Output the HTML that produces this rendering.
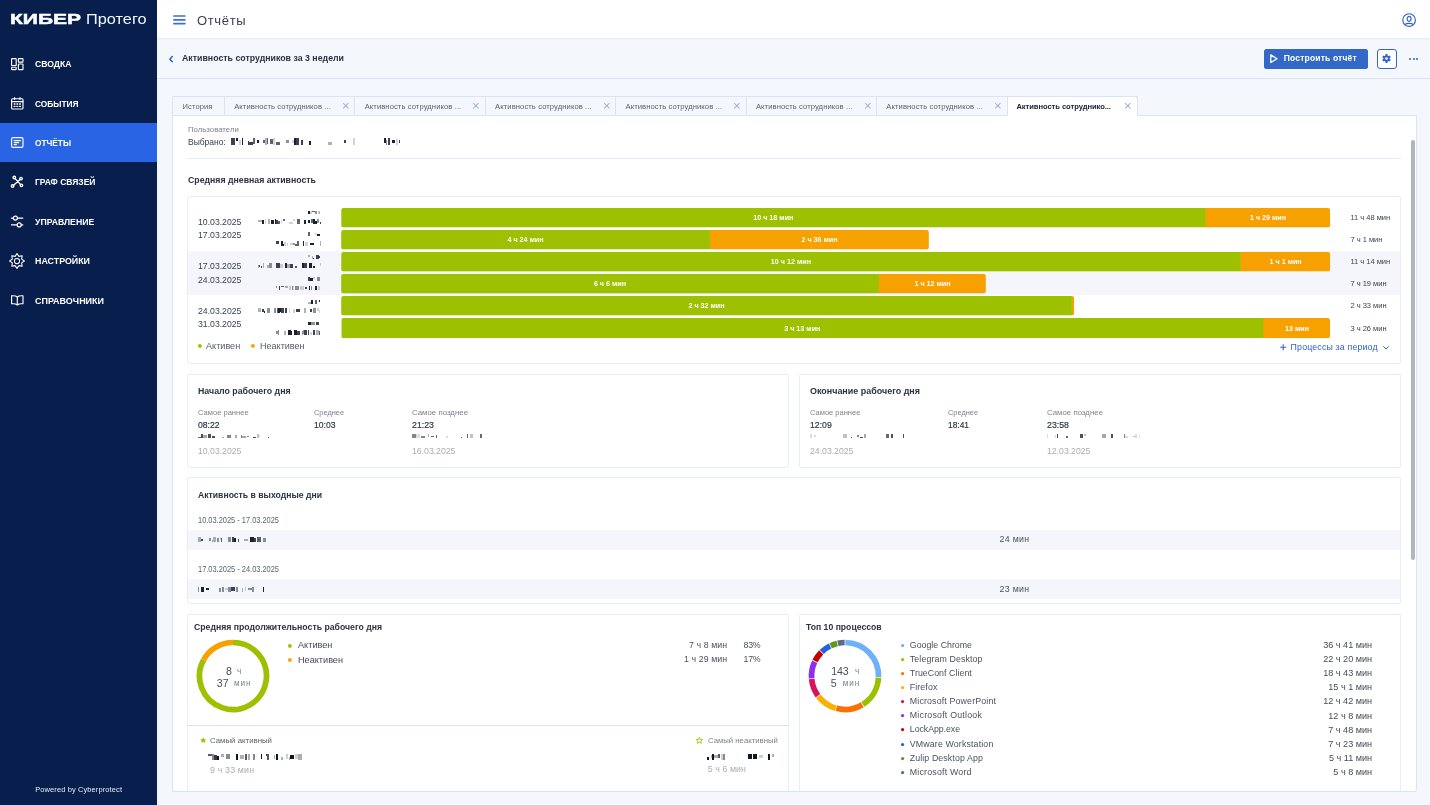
<!DOCTYPE html><html><head><meta charset="utf-8"><title>Отчёты</title><style>
html,body{margin:0;padding:0;}body{width:1430px;height:805px;overflow:hidden;position:relative;background:#f4f7fc;font-family:"Liberation Sans", sans-serif;will-change:transform;}
.t{position:absolute;white-space:nowrap;line-height:1;font-family:"Liberation Sans", sans-serif;}
svg{position:absolute;overflow:visible}
</style></head><body>
<div style="position:absolute;left:0px;top:0px;width:157px;height:805px;background:#081f4d;"></div>
<div style="position:absolute;left:0px;top:123px;width:157px;height:39px;background:#2864e4;"></div>
<div style="position:absolute;left:157px;top:0px;width:1273px;height:38px;background:#fff;box-shadow:0 1px 2px rgba(60,90,160,0.10);"></div>
<svg style="left:173px;top:14px" width="13" height="12" viewBox="0 0 13 12" stroke="#3a6fd8" stroke-width="1.7" stroke-linecap="round"><path d="M0.9 2 H11.9 M0.9 5.8 H11.9 M0.9 9.6 H11.9"/></svg>
<svg style="left:1401.8px;top:12.8px" width="14.2" height="14.2" viewBox="0 0 15 15" fill="none" stroke="#2f62cf" stroke-width="1.2"><circle cx="7.5" cy="7.5" r="6.7"/><ellipse cx="7.5" cy="6.2" rx="2.1" ry="2.6"/><path d="M3.2 12.2 C4.6 10.6 10.4 10.6 11.8 12.2"/></svg>
<div style="position:absolute;left:157px;top:78px;width:1273px;height:1px;background:#dbe4f7;"></div>
<svg style="left:168.6px;top:55.6px" width="4" height="6.4" viewBox="0 0 4 6.4" fill="none" stroke="#2f62cf" stroke-width="1.5" stroke-linecap="round" stroke-linejoin="round"><path d="M3.3 0.6 L0.8 3.2 L3.3 5.8"/></svg>
<div style="position:absolute;left:1263.5px;top:48.5px;width:104px;height:20.5px;background:#3468c8;border-radius:2.5px;"></div>
<svg style="left:1270px;top:54px" width="8" height="9.4" viewBox="0 0 8 9.4" fill="none" stroke="#fff" stroke-width="1.3" stroke-linejoin="round"><path d="M0.8 0.9 L7 4.7 L0.8 8.5 Z"/></svg>
<div style="position:absolute;left:1377px;top:48.5px;width:19.8px;height:20.5px;background:#fff;border:1px solid #3468c8;border-radius:3px;box-sizing:border-box;"></div>
<svg style="left:1382.2px;top:54.3px" width="9" height="9" viewBox="-4.5 -4.5 9 9"><g fill="#2f62cf"><rect x="-1.05" y="-4.4" width="2.1" height="8.8" rx="0.5" transform="rotate(0)"/><rect x="-1.05" y="-4.4" width="2.1" height="8.8" rx="0.5" transform="rotate(60)"/><rect x="-1.05" y="-4.4" width="2.1" height="8.8" rx="0.5" transform="rotate(120)"/><circle r="3.1"/></g><circle r="1.35" fill="#fff"/></svg>
<svg style="left:1407.8px;top:56.7px" width="4.0" height="4.0" viewBox="-2.0 -2.0 4.0 4.0"><circle r="1.0" fill="#2f62cf"/></svg>
<svg style="left:1411.5px;top:56.7px" width="4.0" height="4.0" viewBox="-2.0 -2.0 4.0 4.0"><circle r="1.0" fill="#2f62cf"/></svg>
<svg style="left:1415.2px;top:56.7px" width="4.0" height="4.0" viewBox="-2.0 -2.0 4.0 4.0"><circle r="1.0" fill="#2f62cf"/></svg>
<div style="position:absolute;left:172px;top:115px;width:1244.5px;height:676.5px;background:#fff;border:1px solid #dbe4f7;box-sizing:border-box;border-radius:0 0 3px 3px;"></div>
<div style="position:absolute;left:172px;top:96px;width:965.5px;height:20px;background:#f4f7fc;border:1px solid #dbe4f7;box-sizing:border-box;border-radius:1px 0 0 0;"></div>
<div style="position:absolute;left:224px;top:97px;width:1px;height:18px;background:#dbe4f7;"></div>
<div style="position:absolute;left:354px;top:97px;width:1px;height:18px;background:#dbe4f7;"></div>
<div style="position:absolute;left:485px;top:97px;width:1px;height:18px;background:#dbe4f7;"></div>
<div style="position:absolute;left:615px;top:97px;width:1px;height:18px;background:#dbe4f7;"></div>
<div style="position:absolute;left:746px;top:97px;width:1px;height:18px;background:#dbe4f7;"></div>
<div style="position:absolute;left:876px;top:97px;width:1px;height:18px;background:#dbe4f7;"></div>
<div style="position:absolute;left:1007px;top:96px;width:130.5px;height:20px;background:#fff;border:1px solid #dbe4f7;border-bottom:none;box-sizing:border-box;border-radius:0 3px 0 0;"></div>
<svg style="left:342.8px;top:103.4px" width="5.6" height="5.6" viewBox="0 0 5.6 5.6" stroke="#9db7ea" stroke-width="1.05" stroke-linecap="round"><path d="M0.4 0.4 L5.2 5.2 M5.2 0.4 L0.4 5.2"/></svg>
<svg style="left:473.2px;top:103.4px" width="5.6" height="5.6" viewBox="0 0 5.6 5.6" stroke="#9db7ea" stroke-width="1.05" stroke-linecap="round"><path d="M0.4 0.4 L5.2 5.2 M5.2 0.4 L0.4 5.2"/></svg>
<svg style="left:603.7px;top:103.4px" width="5.6" height="5.6" viewBox="0 0 5.6 5.6" stroke="#9db7ea" stroke-width="1.05" stroke-linecap="round"><path d="M0.4 0.4 L5.2 5.2 M5.2 0.4 L0.4 5.2"/></svg>
<svg style="left:734.1px;top:103.4px" width="5.6" height="5.6" viewBox="0 0 5.6 5.6" stroke="#9db7ea" stroke-width="1.05" stroke-linecap="round"><path d="M0.4 0.4 L5.2 5.2 M5.2 0.4 L0.4 5.2"/></svg>
<svg style="left:864.5px;top:103.4px" width="5.6" height="5.6" viewBox="0 0 5.6 5.6" stroke="#9db7ea" stroke-width="1.05" stroke-linecap="round"><path d="M0.4 0.4 L5.2 5.2 M5.2 0.4 L0.4 5.2"/></svg>
<svg style="left:995.0px;top:103.4px" width="5.6" height="5.6" viewBox="0 0 5.6 5.6" stroke="#9db7ea" stroke-width="1.05" stroke-linecap="round"><path d="M0.4 0.4 L5.2 5.2 M5.2 0.4 L0.4 5.2"/></svg>
<svg style="left:1125.2px;top:103.4px" width="5.6" height="5.6" viewBox="0 0 5.6 5.6" stroke="#9db7ea" stroke-width="1.05" stroke-linecap="round"><path d="M0.4 0.4 L5.2 5.2 M5.2 0.4 L0.4 5.2"/></svg>
<div style="position:absolute;left:1411px;top:140px;width:4px;height:420px;background:#b3b6bc;border-radius:2px;"></div>
<svg style="left:11px;top:58px" width="12.6" height="12" viewBox="0 0 12.6 12" fill="none" stroke="#fff" stroke-width="1.15" stroke-linecap="round" stroke-linejoin="round"><rect x="0.6" y="0.6" width="4.6" height="6.9" rx="0.6"/><rect x="7.4" y="0.6" width="4.6" height="3.5" rx="0.6"/><rect x="0.6" y="9.3" width="4.6" height="2.3" rx="0.6"/><rect x="7.4" y="6" width="4.6" height="5.6" rx="0.6"/></svg>
<svg style="left:11px;top:97px" width="12.6" height="12.6" viewBox="0 0 12.6 12.6" fill="none" stroke="#fff" stroke-width="1.15" stroke-linecap="round" stroke-linejoin="round"><rect x="0.6" y="1.8" width="11.4" height="10.2" rx="1.1"/><path d="M0.6 4.6 H12 M3.6 0.6 V2.4 M9 0.6 V2.4"/><path d="M3.2 7 H4 M5.9 7 H6.7 M8.6 7 H9.4 M3.2 9.4 H4 M5.9 9.4 H6.7 M8.6 9.4 H9.4" stroke-width="1.3"/></svg>
<svg style="left:11px;top:136.8px" width="12.6" height="11" viewBox="0 0 12.6 11" fill="none" stroke="#fff" stroke-width="1.15" stroke-linecap="round" stroke-linejoin="round"><rect x="0.6" y="0.6" width="11.4" height="9.8" rx="1.4"/><path d="M3.2 3.6 H9.4 M3.2 5.6 H7.6 M3.2 7.6 H5.4" stroke-width="1.1"/></svg>
<svg style="left:0px;top:0px" width="40" height="200" viewBox="0 0 40 200" fill="none" stroke="#fff" stroke-width="1.35" stroke-linecap="round"><path d="M15.2 178.6 L20.4 184.4 M20 179.6 L13.6 185.2"/><circle cx="14.3" cy="177.5" r="1.25"/><circle cx="21" cy="178.6" r="1.25"/><circle cx="12.6" cy="186" r="1.25"/><circle cx="21.4" cy="185.3" r="1.25"/></svg>
<svg style="left:0px;top:200px" width="40" height="40" viewBox="0 200 40 40" fill="none" stroke="#fff" stroke-width="1.15" stroke-linecap="round"><path d="M11.4 218.1 H13.4 M17.4 218.1 H22.8 M11.4 224.9 H17.2 M21.2 224.9 H22.8"/><circle cx="15.4" cy="218.1" r="2"/><circle cx="19.2" cy="224.9" r="2"/></svg>
<svg style="left:9.1px;top:252.7px" width="16" height="16" viewBox="-8 -8 16 16" fill="none" stroke="#fff" stroke-width="1.05" stroke-linecap="round" stroke-linejoin="round"><path d="M0.00 -7.40 L1.91 -4.62 L5.23 -5.23 L4.62 -1.91 L7.40 -0.00 L4.62 1.91 L5.23 5.23 L1.91 4.62 L0.00 7.40 L-1.91 4.62 L-5.23 5.23 L-4.62 1.91 L-7.40 0.00 L-4.62 -1.91 L-5.23 -5.23 L-1.91 -4.62 Z"/><circle r="2.6"/></svg>
<svg style="left:11px;top:294.6px" width="12.6" height="10.8" viewBox="0 0 12.6 10.8" fill="none" stroke="#fff" stroke-width="1.15" stroke-linecap="round" stroke-linejoin="round"><path d="M6.3 2 C5 0.8 2.6 0.6 0.6 0.8 V8.8 C2.6 8.6 5 8.8 6.3 10 C7.6 8.8 10 8.6 12 8.8 V0.8 C10 0.6 7.6 0.8 6.3 2 Z M6.3 2 V10"/></svg>
<div style="position:absolute;left:0;top:0;filter:blur(0.35px)"><i style="position:absolute;left:230.5px;top:137.9px;width:4px;height:7px;background:#1b2132;opacity:0.85"></i><i style="position:absolute;left:235.5px;top:137.9px;width:2px;height:2.8px;background:#1b2132;opacity:1"></i><i style="position:absolute;left:238.5px;top:139.7px;width:2px;height:5.2px;background:#1b2132;opacity:0.2"></i><i style="position:absolute;left:241.5px;top:137.9px;width:1px;height:7px;background:#1b2132;opacity:1"></i><i style="position:absolute;left:247.5px;top:141.0px;width:1px;height:3.9px;background:#1b2132;opacity:0.85"></i><i style="position:absolute;left:248.5px;top:142.1px;width:4px;height:2.8px;background:#1b2132;opacity:0.85"></i><i style="position:absolute;left:252.5px;top:138.2px;width:2px;height:6.3px;background:#1b2132;opacity:0.7"></i><i style="position:absolute;left:256.5px;top:140.0px;width:2px;height:2.8px;background:#1b2132;opacity:1"></i><i style="position:absolute;left:262.5px;top:140.0px;width:2px;height:2.8px;background:#1b2132;opacity:0.7"></i><i style="position:absolute;left:264.5px;top:137.9px;width:2px;height:7px;background:#1b2132;opacity:0.35"></i><i style="position:absolute;left:266.5px;top:137.9px;width:1px;height:6.3px;background:#1b2132;opacity:0.7"></i><i style="position:absolute;left:269.5px;top:138.8px;width:3px;height:5.2px;background:#1b2132;opacity:0.7"></i><i style="position:absolute;left:272.5px;top:137.9px;width:2px;height:7px;background:#1b2132;opacity:0.2"></i><i style="position:absolute;left:275.5px;top:142.1px;width:4px;height:2.8px;background:#1b2132;opacity:0.7"></i><i style="position:absolute;left:285.5px;top:139.5px;width:3px;height:3.9px;background:#1b2132;opacity:0.5"></i><i style="position:absolute;left:291.5px;top:140.0px;width:2px;height:2.8px;background:#1b2132;opacity:0.2"></i><i style="position:absolute;left:293.5px;top:137.9px;width:2px;height:7px;background:#1b2132;opacity:1"></i><i style="position:absolute;left:295.5px;top:137.9px;width:3px;height:7px;background:#1b2132;opacity:0.85"></i><i style="position:absolute;left:300.5px;top:139.7px;width:2px;height:5.2px;background:#1b2132;opacity:0.85"></i><i style="position:absolute;left:308.5px;top:141.0px;width:2px;height:3.9px;background:#1b2132;opacity:1"></i></div>
<div style="position:absolute;left:0;top:0;filter:blur(0.35px)"><i style="position:absolute;left:328px;top:142.1px;width:4px;height:2.8px;background:#1b2132;opacity:0.35"></i><i style="position:absolute;left:344px;top:139.5px;width:2px;height:3.9px;background:#1b2132;opacity:0.85"></i><i style="position:absolute;left:353px;top:137.9px;width:2px;height:7px;background:#1b2132;opacity:0.2"></i><i style="position:absolute;left:384px;top:137.9px;width:2px;height:5.2px;background:#1b2132;opacity:1"></i><i style="position:absolute;left:386px;top:139.7px;width:1px;height:5.2px;background:#1b2132;opacity:0.5"></i><i style="position:absolute;left:388px;top:137.9px;width:2px;height:7px;background:#1b2132;opacity:0.85"></i><i style="position:absolute;left:392px;top:140.0px;width:3px;height:2.8px;background:#1b2132;opacity:1"></i><i style="position:absolute;left:396px;top:138.6px;width:2px;height:6.3px;background:#1b2132;opacity:0.2"></i><i style="position:absolute;left:399px;top:140.0px;width:1px;height:2.8px;background:#1b2132;opacity:0.85"></i></div>
<div style="position:absolute;left:187px;top:158px;width:1214px;height:1px;background:#e8edf9;"></div>
<div style="position:absolute;left:187px;top:196px;width:1214px;height:167.5px;background:#fff;border:1px solid #e8edf9;box-sizing:border-box;border-radius:2px;"></div>
<div style="position:absolute;left:188px;top:251px;width:1212px;height:44px;background:#f4f6fc;"></div>
<svg style="left:341px;top:208px" width="989.4" height="19.6" viewBox="0 0 989.4 19.6"><clipPath id="c208"><rect width="989.4" height="19.6" rx="2.5"/></clipPath><g clip-path="url(#c208)"><rect x="864.1" width="125.3" height="19.6" fill="#f7a100"/><rect width="864.6" height="19.6" fill="#9dc100"/></g></svg>
<svg style="left:341px;top:230px" width="588" height="19.6" viewBox="0 0 588 19.6"><clipPath id="c230"><rect width="588" height="19.6" rx="2.5"/></clipPath><g clip-path="url(#c230)"><rect x="368.5" width="219.5" height="19.6" fill="#f7a100"/><rect width="369" height="19.6" fill="#9dc100"/></g></svg>
<svg style="left:341px;top:252px" width="989.4" height="19.6" viewBox="0 0 989.4 19.6"><clipPath id="c252"><rect width="989.4" height="19.6" rx="2.5"/></clipPath><g clip-path="url(#c252)"><rect x="899.3" width="90.1" height="19.6" fill="#f7a100"/><rect width="899.8" height="19.6" fill="#9dc100"/></g></svg>
<svg style="left:341px;top:274px" width="645" height="19.6" viewBox="0 0 645 19.6"><clipPath id="c274"><rect width="645" height="19.6" rx="2.5"/></clipPath><g clip-path="url(#c274)"><rect x="537.5" width="107.5" height="19.6" fill="#f7a100"/><rect width="538" height="19.6" fill="#9dc100"/></g></svg>
<svg style="left:341px;top:296px" width="733.2" height="19.6" viewBox="0 0 733.2 19.6"><clipPath id="c296"><rect width="733.2" height="19.6" rx="2.5"/></clipPath><g clip-path="url(#c296)"><rect x="730.5" width="2.7" height="19.6" fill="#f7a100"/><rect width="731" height="19.6" fill="#9dc100"/></g></svg>
<svg style="left:341px;top:318px" width="989.4" height="20.2" viewBox="0 0 989.4 20.2"><clipPath id="c318"><rect width="989.4" height="20.2" rx="2.5"/></clipPath><g clip-path="url(#c318)"><rect x="922.1" width="67.3" height="20.2" fill="#f7a100"/><rect width="922.6" height="20.2" fill="#9dc100"/></g></svg>
<div style="position:absolute;left:0;top:0;filter:blur(0.35px)"><i style="position:absolute;left:307.6px;top:210.9px;width:2px;height:3.4px;background:#1b2132;opacity:1"></i><i style="position:absolute;left:309.6px;top:210.7px;width:2px;height:3.8px;background:#1b2132;opacity:0.2"></i><i style="position:absolute;left:311.6px;top:210.7px;width:3px;height:1.5px;background:#1b2132;opacity:0.7"></i><i style="position:absolute;left:314.6px;top:211.1px;width:2px;height:3.4px;background:#1b2132;opacity:0.5"></i><i style="position:absolute;left:317.6px;top:210.7px;width:1px;height:3.8px;background:#1b2132;opacity:0.2"></i><i style="position:absolute;left:318.6px;top:210.7px;width:1.4px;height:3.8px;background:#1b2132;opacity:0.35"></i></div>
<div style="position:absolute;left:0;top:0;filter:blur(0.35px)"><i style="position:absolute;left:257.7px;top:220.3px;width:4px;height:1.9px;background:#1b2132;opacity:0.35"></i><i style="position:absolute;left:261.7px;top:220.1px;width:2px;height:3.6px;background:#1b2132;opacity:1"></i><i style="position:absolute;left:264.7px;top:219.4px;width:1px;height:4.3px;background:#1b2132;opacity:0.2"></i><i style="position:absolute;left:267.7px;top:218.9px;width:2px;height:4.8px;background:#1b2132;opacity:0.35"></i><i style="position:absolute;left:270.7px;top:220.1px;width:3px;height:3.6px;background:#1b2132;opacity:1"></i><i style="position:absolute;left:274.7px;top:218.9px;width:1px;height:4.8px;background:#1b2132;opacity:1"></i><i style="position:absolute;left:275.7px;top:220.1px;width:2px;height:3.6px;background:#1b2132;opacity:0.85"></i><i style="position:absolute;left:277.7px;top:221.1px;width:2px;height:2.6px;background:#1b2132;opacity:0.7"></i><i style="position:absolute;left:280.7px;top:220.0px;width:1px;height:2.6px;background:#1b2132;opacity:0.2"></i><i style="position:absolute;left:282.7px;top:218.9px;width:2px;height:2.6px;background:#1b2132;opacity:0.7"></i><i style="position:absolute;left:288.7px;top:221.8px;width:4px;height:1.9px;background:#1b2132;opacity:0.2"></i><i style="position:absolute;left:292.7px;top:218.9px;width:2px;height:2.6px;background:#1b2132;opacity:0.2"></i><i style="position:absolute;left:296.7px;top:218.9px;width:3px;height:4.8px;background:#1b2132;opacity:0.7"></i><i style="position:absolute;left:303.7px;top:220.1px;width:2px;height:3.6px;background:#1b2132;opacity:1"></i><i style="position:absolute;left:307.7px;top:220.0px;width:2px;height:2.6px;background:#1b2132;opacity:1"></i><i style="position:absolute;left:310.7px;top:218.9px;width:2px;height:4.3px;background:#1b2132;opacity:0.7"></i><i style="position:absolute;left:312.7px;top:218.9px;width:2px;height:4.8px;background:#1b2132;opacity:1"></i><i style="position:absolute;left:314.7px;top:221.1px;width:2px;height:2.6px;background:#1b2132;opacity:1"></i><i style="position:absolute;left:316.7px;top:218.9px;width:2px;height:4.3px;background:#1b2132;opacity:0.5"></i><i style="position:absolute;left:319.7px;top:221.8px;width:0.7px;height:1.9px;background:#1b2132;opacity:0.85"></i></div>
<div style="position:absolute;left:0;top:0;filter:blur(0.35px)"><i style="position:absolute;left:307.6px;top:232.3px;width:2px;height:3.8px;background:#1b2132;opacity:0.7"></i><i style="position:absolute;left:314.6px;top:233.2px;width:2px;height:2.1px;background:#1b2132;opacity:0.2"></i><i style="position:absolute;left:316.6px;top:234.0px;width:3px;height:2.1px;background:#1b2132;opacity:1"></i></div>
<div style="position:absolute;left:0;top:0;filter:blur(0.35px)"><i style="position:absolute;left:275.5px;top:241.4px;width:3px;height:2.6px;background:#1b2132;opacity:0.85"></i><i style="position:absolute;left:280.5px;top:241.4px;width:2px;height:4.8px;background:#1b2132;opacity:1"></i><i style="position:absolute;left:282.5px;top:243.6px;width:1px;height:2.6px;background:#1b2132;opacity:1"></i><i style="position:absolute;left:283.5px;top:241.6px;width:2px;height:4.3px;background:#1b2132;opacity:0.2"></i><i style="position:absolute;left:286.5px;top:242.6px;width:1px;height:3.6px;background:#1b2132;opacity:0.2"></i><i style="position:absolute;left:289.5px;top:242.5px;width:3px;height:2.6px;background:#1b2132;opacity:0.2"></i><i style="position:absolute;left:292.5px;top:242.5px;width:2px;height:2.6px;background:#1b2132;opacity:0.5"></i><i style="position:absolute;left:294.5px;top:244.3px;width:2px;height:1.9px;background:#1b2132;opacity:0.7"></i><i style="position:absolute;left:296.5px;top:241.4px;width:2px;height:4.8px;background:#1b2132;opacity:0.7"></i><i style="position:absolute;left:302.5px;top:241.4px;width:1px;height:4.8px;background:#1b2132;opacity:1"></i><i style="position:absolute;left:304.5px;top:242.0px;width:3px;height:3.6px;background:#1b2132;opacity:0.2"></i><i style="position:absolute;left:309.5px;top:242.5px;width:4px;height:2.6px;background:#1b2132;opacity:1"></i><i style="position:absolute;left:319.5px;top:241.4px;width:0.9px;height:4.8px;background:#1b2132;opacity:0.35"></i></div>
<div style="position:absolute;left:0;top:0;filter:blur(0.35px)"><i style="position:absolute;left:307.6px;top:255.4px;width:2px;height:1.5px;background:#1b2132;opacity:0.35"></i><i style="position:absolute;left:311.6px;top:255.9px;width:1px;height:2.8px;background:#1b2132;opacity:0.35"></i><i style="position:absolute;left:312.6px;top:257.7px;width:1px;height:1.5px;background:#1b2132;opacity:0.85"></i><i style="position:absolute;left:315.6px;top:255.4px;width:3px;height:3.8px;background:#1b2132;opacity:0.85"></i><i style="position:absolute;left:318.6px;top:256.3px;width:1.4px;height:2.1px;background:#1b2132;opacity:0.85"></i></div>
<div style="position:absolute;left:0;top:0;filter:blur(0.35px)"><i style="position:absolute;left:257.7px;top:264.6px;width:1px;height:3.6px;background:#1b2132;opacity:0.35"></i><i style="position:absolute;left:258.7px;top:264.8px;width:1px;height:1.9px;background:#1b2132;opacity:0.85"></i><i style="position:absolute;left:260.7px;top:265.6px;width:1px;height:2.6px;background:#1b2132;opacity:0.85"></i><i style="position:absolute;left:262.7px;top:263.4px;width:1px;height:4.3px;background:#1b2132;opacity:0.35"></i><i style="position:absolute;left:266.7px;top:264.6px;width:2px;height:3.6px;background:#1b2132;opacity:0.35"></i><i style="position:absolute;left:268.7px;top:263.4px;width:3px;height:4.8px;background:#1b2132;opacity:0.5"></i><i style="position:absolute;left:275.7px;top:263.4px;width:4px;height:4.8px;background:#1b2132;opacity:0.85"></i><i style="position:absolute;left:279.7px;top:263.6px;width:3px;height:4.3px;background:#1b2132;opacity:0.2"></i><i style="position:absolute;left:284.7px;top:263.4px;width:2px;height:4.8px;background:#1b2132;opacity:1"></i><i style="position:absolute;left:286.7px;top:263.9px;width:3px;height:4.3px;background:#1b2132;opacity:0.35"></i><i style="position:absolute;left:289.7px;top:264.0px;width:3px;height:3.6px;background:#1b2132;opacity:0.85"></i><i style="position:absolute;left:294.7px;top:265.6px;width:2px;height:2.6px;background:#1b2132;opacity:0.7"></i><i style="position:absolute;left:301.7px;top:263.4px;width:2px;height:4.8px;background:#1b2132;opacity:1"></i><i style="position:absolute;left:303.7px;top:263.4px;width:3px;height:4.8px;background:#1b2132;opacity:0.85"></i><i style="position:absolute;left:308.7px;top:263.4px;width:3px;height:4.8px;background:#1b2132;opacity:1"></i><i style="position:absolute;left:312.7px;top:265.6px;width:2px;height:2.6px;background:#1b2132;opacity:1"></i><i style="position:absolute;left:319.7px;top:263.4px;width:0.7px;height:2.6px;background:#1b2132;opacity:0.2"></i></div>
<div style="position:absolute;left:0;top:0;filter:blur(0.35px)"><i style="position:absolute;left:307.6px;top:277.4px;width:2px;height:3.8px;background:#1b2132;opacity:0.85"></i><i style="position:absolute;left:309.6px;top:278.4px;width:3px;height:2.8px;background:#1b2132;opacity:1"></i><i style="position:absolute;left:312.6px;top:277.4px;width:2px;height:2.1px;background:#1b2132;opacity:0.2"></i><i style="position:absolute;left:316.6px;top:277.4px;width:3px;height:3.4px;background:#1b2132;opacity:0.5"></i></div>
<div style="position:absolute;left:0;top:0;filter:blur(0.35px)"><i style="position:absolute;left:275.5px;top:285.5px;width:1px;height:2.6px;background:#1b2132;opacity:0.5"></i><i style="position:absolute;left:278.5px;top:285.5px;width:1px;height:4.8px;background:#1b2132;opacity:0.85"></i><i style="position:absolute;left:280.5px;top:285.5px;width:3px;height:1.9px;background:#1b2132;opacity:0.7"></i><i style="position:absolute;left:284.5px;top:285.5px;width:3px;height:2.6px;background:#1b2132;opacity:0.35"></i><i style="position:absolute;left:288.5px;top:285.5px;width:2px;height:4.8px;background:#1b2132;opacity:0.2"></i><i style="position:absolute;left:291.5px;top:285.5px;width:1px;height:4.8px;background:#1b2132;opacity:0.5"></i><i style="position:absolute;left:292.5px;top:285.5px;width:1px;height:4.8px;background:#1b2132;opacity:0.2"></i><i style="position:absolute;left:294.5px;top:286.0px;width:4px;height:4.3px;background:#1b2132;opacity:0.5"></i><i style="position:absolute;left:299.5px;top:285.5px;width:4px;height:4.8px;background:#1b2132;opacity:0.2"></i><i style="position:absolute;left:304.5px;top:286.6px;width:2px;height:2.6px;background:#1b2132;opacity:0.85"></i><i style="position:absolute;left:308.5px;top:286.0px;width:1px;height:4.3px;background:#1b2132;opacity:1"></i><i style="position:absolute;left:310.5px;top:285.5px;width:1px;height:4.8px;background:#1b2132;opacity:0.5"></i><i style="position:absolute;left:314.5px;top:286.1px;width:2px;height:3.6px;background:#1b2132;opacity:1"></i><i style="position:absolute;left:317.5px;top:285.5px;width:2.9px;height:4.8px;background:#1b2132;opacity:0.2"></i></div>
<div style="position:absolute;left:0;top:0;filter:blur(0.35px)"><i style="position:absolute;left:307.6px;top:301.6px;width:3px;height:2.1px;background:#1b2132;opacity:0.35"></i><i style="position:absolute;left:310.6px;top:299.9px;width:2px;height:3.8px;background:#1b2132;opacity:1"></i><i style="position:absolute;left:314.6px;top:299.9px;width:2px;height:3.8px;background:#1b2132;opacity:0.7"></i><i style="position:absolute;left:318.6px;top:299.9px;width:1px;height:2.1px;background:#1b2132;opacity:1"></i></div>
<div style="position:absolute;left:0;top:0;filter:blur(0.35px)"><i style="position:absolute;left:257.7px;top:308.1px;width:3px;height:4.3px;background:#1b2132;opacity:0.35"></i><i style="position:absolute;left:261.7px;top:309.0px;width:2px;height:2.6px;background:#1b2132;opacity:0.85"></i><i style="position:absolute;left:263.7px;top:310.8px;width:1px;height:1.9px;background:#1b2132;opacity:1"></i><i style="position:absolute;left:266.7px;top:308.4px;width:3px;height:4.3px;background:#1b2132;opacity:0.5"></i><i style="position:absolute;left:273.7px;top:307.9px;width:2px;height:4.8px;background:#1b2132;opacity:0.5"></i><i style="position:absolute;left:276.7px;top:307.9px;width:1px;height:4.8px;background:#1b2132;opacity:0.7"></i><i style="position:absolute;left:277.7px;top:308.4px;width:2px;height:4.3px;background:#1b2132;opacity:1"></i><i style="position:absolute;left:279.7px;top:307.9px;width:1px;height:4.3px;background:#1b2132;opacity:1"></i><i style="position:absolute;left:280.7px;top:307.9px;width:3px;height:4.8px;background:#1b2132;opacity:0.85"></i><i style="position:absolute;left:284.7px;top:307.9px;width:2px;height:4.8px;background:#1b2132;opacity:0.85"></i><i style="position:absolute;left:288.7px;top:307.9px;width:1px;height:4.8px;background:#1b2132;opacity:0.2"></i><i style="position:absolute;left:292.7px;top:309.1px;width:2px;height:3.6px;background:#1b2132;opacity:0.2"></i><i style="position:absolute;left:295.7px;top:309.0px;width:4px;height:2.6px;background:#1b2132;opacity:0.85"></i><i style="position:absolute;left:303.7px;top:307.9px;width:2px;height:4.8px;background:#1b2132;opacity:0.35"></i><i style="position:absolute;left:309.7px;top:308.5px;width:2px;height:3.6px;background:#1b2132;opacity:0.85"></i><i style="position:absolute;left:312.7px;top:307.9px;width:3px;height:4.8px;background:#1b2132;opacity:0.5"></i><i style="position:absolute;left:316.7px;top:307.9px;width:2px;height:3.6px;background:#1b2132;opacity:0.2"></i><i style="position:absolute;left:318.7px;top:310.1px;width:1.7px;height:2.6px;background:#1b2132;opacity:0.2"></i></div>
<div style="position:absolute;left:0;top:0;filter:blur(0.35px)"><i style="position:absolute;left:307.6px;top:321.5px;width:3px;height:3.8px;background:#1b2132;opacity:1"></i><i style="position:absolute;left:310.6px;top:322.0px;width:4px;height:2.8px;background:#1b2132;opacity:0.5"></i><i style="position:absolute;left:315.6px;top:321.5px;width:3px;height:3.8px;background:#1b2132;opacity:0.85"></i></div>
<div style="position:absolute;left:0;top:0;filter:blur(0.35px)"><i style="position:absolute;left:275.5px;top:330.6px;width:2px;height:3.6px;background:#1b2132;opacity:0.5"></i><i style="position:absolute;left:277.5px;top:330.0px;width:1px;height:4.8px;background:#1b2132;opacity:0.5"></i><i style="position:absolute;left:283.5px;top:330.5px;width:2px;height:4.3px;background:#1b2132;opacity:0.35"></i><i style="position:absolute;left:287.5px;top:330.0px;width:3px;height:4.8px;background:#1b2132;opacity:1"></i><i style="position:absolute;left:290.5px;top:331.2px;width:1px;height:3.6px;background:#1b2132;opacity:1"></i><i style="position:absolute;left:293.5px;top:330.0px;width:3px;height:4.8px;background:#1b2132;opacity:1"></i><i style="position:absolute;left:296.5px;top:330.5px;width:3px;height:4.3px;background:#1b2132;opacity:0.85"></i><i style="position:absolute;left:301.5px;top:331.2px;width:1px;height:3.6px;background:#1b2132;opacity:0.5"></i><i style="position:absolute;left:302.5px;top:330.0px;width:1px;height:4.3px;background:#1b2132;opacity:0.5"></i><i style="position:absolute;left:303.5px;top:330.0px;width:3px;height:4.8px;background:#1b2132;opacity:0.85"></i><i style="position:absolute;left:307.5px;top:330.0px;width:1px;height:4.8px;background:#1b2132;opacity:0.85"></i><i style="position:absolute;left:309.5px;top:332.2px;width:2px;height:2.6px;background:#1b2132;opacity:0.2"></i><i style="position:absolute;left:312.5px;top:330.0px;width:2px;height:4.8px;background:#1b2132;opacity:0.85"></i><i style="position:absolute;left:315.5px;top:330.0px;width:3px;height:4.8px;background:#1b2132;opacity:0.35"></i><i style="position:absolute;left:318.5px;top:330.5px;width:1.9px;height:4.3px;background:#1b2132;opacity:0.7"></i></div>
<svg style="left:196.9px;top:343.4px" width="5.8" height="5.8" viewBox="-2.9 -2.9 5.8 5.8"><circle r="1.9" fill="#9dc100"/></svg>
<svg style="left:249.9px;top:343.4px" width="5.8" height="5.8" viewBox="-2.9 -2.9 5.8 5.8"><circle r="1.9" fill="#f7a100"/></svg>
<svg style="left:1280px;top:343.6px" width="6.4" height="6.4" viewBox="0 0 6.4 6.4" stroke="#2f62cf" stroke-width="1.1"><path d="M3.2 0.2 V6.2 M0.2 3.2 H6.2"/></svg>
<svg style="left:1383.4px;top:345.6px" width="6" height="3.6" viewBox="0 0 6 3.6" fill="none" stroke="#2f62cf" stroke-width="1" stroke-linecap="round" stroke-linejoin="round"><path d="M0.6 0.6 L3 3 L5.4 0.6"/></svg>
<div style="position:absolute;left:187px;top:374px;width:602px;height:93.5px;background:#fff;border:1px solid #e8edf9;box-sizing:border-box;border-radius:2px;"></div>
<div style="position:absolute;left:0;top:0;filter:blur(0.35px)"><i style="position:absolute;left:197.8px;top:436.6px;width:3px;height:1.4px;background:#4a5060;opacity:0.85"></i><i style="position:absolute;left:200.8px;top:434.4px;width:2px;height:3.2px;background:#4a5060;opacity:1"></i><i style="position:absolute;left:202.8px;top:435.3px;width:4px;height:2.7px;background:#4a5060;opacity:0.5"></i><i style="position:absolute;left:207.8px;top:434.4px;width:3px;height:3.6px;background:#4a5060;opacity:1"></i><i style="position:absolute;left:211.8px;top:436.0px;width:3px;height:2.0px;background:#4a5060;opacity:1"></i><i style="position:absolute;left:221.8px;top:436.6px;width:2px;height:1.4px;background:#4a5060;opacity:0.5"></i><i style="position:absolute;left:226.8px;top:435.3px;width:4px;height:2.7px;background:#4a5060;opacity:0.7"></i><i style="position:absolute;left:234.8px;top:435.3px;width:2px;height:2.7px;background:#4a5060;opacity:0.5"></i><i style="position:absolute;left:240.8px;top:434.8px;width:1px;height:3.2px;background:#4a5060;opacity:0.7"></i><i style="position:absolute;left:241.8px;top:436.0px;width:4px;height:2.0px;background:#4a5060;opacity:0.5"></i><i style="position:absolute;left:246.8px;top:435.5px;width:2px;height:1.4px;background:#4a5060;opacity:0.7"></i><i style="position:absolute;left:252.8px;top:436.6px;width:3px;height:1.4px;background:#4a5060;opacity:1"></i><i style="position:absolute;left:256.8px;top:434.4px;width:2px;height:3.6px;background:#4a5060;opacity:0.35"></i><i style="position:absolute;left:258.8px;top:434.8px;width:1px;height:2.7px;background:#4a5060;opacity:0.2"></i><i style="position:absolute;left:267.8px;top:436.6px;width:1.0px;height:1.4px;background:#4a5060;opacity:1"></i></div>
<div style="position:absolute;left:0;top:0;filter:blur(0.35px)"><i style="position:absolute;left:412.4px;top:434.4px;width:4px;height:3.2px;background:#4a5060;opacity:0.7"></i><i style="position:absolute;left:416.4px;top:434.4px;width:4px;height:3.6px;background:#4a5060;opacity:0.2"></i><i style="position:absolute;left:421.4px;top:436.0px;width:4px;height:2.0px;background:#4a5060;opacity:0.7"></i><i style="position:absolute;left:428.4px;top:434.4px;width:1px;height:2.7px;background:#4a5060;opacity:0.5"></i><i style="position:absolute;left:431.4px;top:435.5px;width:3px;height:1.4px;background:#4a5060;opacity:0.85"></i><i style="position:absolute;left:436.4px;top:435.3px;width:1px;height:2.7px;background:#4a5060;opacity:0.85"></i><i style="position:absolute;left:446.4px;top:436.0px;width:2px;height:2.0px;background:#4a5060;opacity:0.2"></i><i style="position:absolute;left:461.4px;top:436.6px;width:1px;height:1.4px;background:#4a5060;opacity:0.85"></i><i style="position:absolute;left:467.4px;top:434.4px;width:1px;height:3.6px;background:#4a5060;opacity:0.85"></i><i style="position:absolute;left:470.4px;top:434.4px;width:3px;height:3.6px;background:#4a5060;opacity:0.35"></i><i style="position:absolute;left:480.4px;top:434.4px;width:2px;height:3.6px;background:#4a5060;opacity:0.85"></i></div>
<div style="position:absolute;left:799px;top:374px;width:602px;height:93.5px;background:#fff;border:1px solid #e8edf9;box-sizing:border-box;border-radius:2px;"></div>
<div style="position:absolute;left:0;top:0;filter:blur(0.35px)"><i style="position:absolute;left:809.8px;top:434.4px;width:2px;height:3.6px;background:#4a5060;opacity:0.2"></i><i style="position:absolute;left:813.8px;top:435.2px;width:2px;height:2.0px;background:#4a5060;opacity:0.2"></i><i style="position:absolute;left:842.8px;top:434.4px;width:4px;height:3.6px;background:#4a5060;opacity:0.35"></i><i style="position:absolute;left:850.8px;top:436.6px;width:1px;height:1.4px;background:#4a5060;opacity:1"></i><i style="position:absolute;left:856.8px;top:435.2px;width:2px;height:2.0px;background:#4a5060;opacity:0.7"></i><i style="position:absolute;left:859.8px;top:436.6px;width:3px;height:1.4px;background:#4a5060;opacity:1"></i><i style="position:absolute;left:863.8px;top:434.4px;width:2px;height:3.6px;background:#4a5060;opacity:0.5"></i><i style="position:absolute;left:885.8px;top:434.4px;width:3px;height:3.6px;background:#4a5060;opacity:0.85"></i><i style="position:absolute;left:890.8px;top:434.4px;width:2px;height:3.6px;background:#4a5060;opacity:1"></i><i style="position:absolute;left:902.8px;top:434.4px;width:1.0px;height:3.6px;background:#4a5060;opacity:1"></i></div>
<div style="position:absolute;left:0;top:0;filter:blur(0.35px)"><i style="position:absolute;left:1047.2px;top:434.4px;width:1px;height:3.6px;background:#4a5060;opacity:0.2"></i><i style="position:absolute;left:1055.2px;top:434.8px;width:1px;height:3.2px;background:#4a5060;opacity:0.2"></i><i style="position:absolute;left:1057.2px;top:434.4px;width:1px;height:3.6px;background:#4a5060;opacity:1"></i><i style="position:absolute;left:1066.2px;top:436.0px;width:2px;height:2.0px;background:#4a5060;opacity:0.85"></i><i style="position:absolute;left:1080.2px;top:434.4px;width:3px;height:3.6px;background:#4a5060;opacity:1"></i><i style="position:absolute;left:1084.2px;top:434.4px;width:2px;height:2.0px;background:#4a5060;opacity:0.35"></i><i style="position:absolute;left:1102.2px;top:434.4px;width:4px;height:3.2px;background:#4a5060;opacity:0.5"></i><i style="position:absolute;left:1111.2px;top:434.4px;width:2px;height:3.6px;background:#4a5060;opacity:1"></i><i style="position:absolute;left:1124.2px;top:434.4px;width:1px;height:3.6px;background:#4a5060;opacity:0.7"></i><i style="position:absolute;left:1125.2px;top:436.0px;width:3px;height:2.0px;background:#4a5060;opacity:0.2"></i><i style="position:absolute;left:1133.2px;top:435.5px;width:2px;height:1.4px;background:#4a5060;opacity:0.35"></i><i style="position:absolute;left:1135.2px;top:434.4px;width:2px;height:3.6px;background:#4a5060;opacity:0.2"></i><i style="position:absolute;left:1139.2px;top:434.8px;width:1px;height:3.2px;background:#4a5060;opacity:0.2"></i></div>
<div style="position:absolute;left:187px;top:477px;width:1214px;height:127px;background:#fff;border:1px solid #e8edf9;box-sizing:border-box;border-radius:2px;"></div>
<div style="position:absolute;left:188px;top:530px;width:1212px;height:19.5px;background:#f4f6fc;"></div>
<div style="position:absolute;left:0;top:0;filter:blur(0.35px)"><i style="position:absolute;left:197.6px;top:537.1px;width:3px;height:5px;background:#1b2132;opacity:0.35"></i><i style="position:absolute;left:200.6px;top:538.6px;width:2px;height:2.0px;background:#1b2132;opacity:0.85"></i><i style="position:absolute;left:208.6px;top:538.2px;width:2px;height:2.8px;background:#1b2132;opacity:0.5"></i><i style="position:absolute;left:211.6px;top:540.1px;width:1px;height:2.0px;background:#1b2132;opacity:0.35"></i><i style="position:absolute;left:212.6px;top:537.1px;width:3px;height:5px;background:#1b2132;opacity:0.35"></i><i style="position:absolute;left:216.6px;top:537.6px;width:2px;height:4.5px;background:#1b2132;opacity:0.5"></i><i style="position:absolute;left:219.6px;top:537.1px;width:1px;height:2.8px;background:#1b2132;opacity:0.2"></i><i style="position:absolute;left:220.6px;top:538.4px;width:1px;height:3.8px;background:#1b2132;opacity:0.7"></i><i style="position:absolute;left:227.6px;top:537.1px;width:3px;height:5px;background:#1b2132;opacity:0.5"></i><i style="position:absolute;left:231.6px;top:537.1px;width:2px;height:5px;background:#1b2132;opacity:0.85"></i><i style="position:absolute;left:233.6px;top:537.6px;width:2px;height:4.5px;background:#1b2132;opacity:1"></i><i style="position:absolute;left:237.6px;top:539.4px;width:1px;height:2.8px;background:#1b2132;opacity:0.7"></i><i style="position:absolute;left:243.6px;top:538.6px;width:4px;height:2.0px;background:#1b2132;opacity:0.35"></i><i style="position:absolute;left:249.6px;top:537.1px;width:4px;height:5px;background:#1b2132;opacity:1"></i><i style="position:absolute;left:253.6px;top:537.6px;width:2px;height:4.5px;background:#1b2132;opacity:0.85"></i><i style="position:absolute;left:256.6px;top:537.1px;width:4px;height:5px;background:#1b2132;opacity:0.7"></i><i style="position:absolute;left:262.6px;top:538.4px;width:3px;height:3.8px;background:#1b2132;opacity:0.5"></i></div>
<div style="position:absolute;left:188px;top:579px;width:1212px;height:19.5px;background:#f4f6fc;"></div>
<div style="position:absolute;left:0;top:0;filter:blur(0.35px)"><i style="position:absolute;left:197.6px;top:587.0px;width:1px;height:4.5px;background:#1b2132;opacity:0.5"></i><i style="position:absolute;left:200.6px;top:587.0px;width:3px;height:4.5px;background:#1b2132;opacity:1"></i><i style="position:absolute;left:205.6px;top:587.6px;width:3px;height:2.8px;background:#1b2132;opacity:1"></i><i style="position:absolute;left:218.6px;top:587.8px;width:2px;height:3.8px;background:#1b2132;opacity:0.5"></i><i style="position:absolute;left:221.6px;top:586.5px;width:2px;height:5px;background:#1b2132;opacity:0.5"></i><i style="position:absolute;left:224.6px;top:587.6px;width:3px;height:2.8px;background:#1b2132;opacity:0.2"></i><i style="position:absolute;left:227.6px;top:586.5px;width:3px;height:5px;background:#1b2132;opacity:0.5"></i><i style="position:absolute;left:230.6px;top:586.5px;width:4px;height:4.5px;background:#1b2132;opacity:0.85"></i><i style="position:absolute;left:235.6px;top:586.5px;width:2px;height:5px;background:#1b2132;opacity:0.5"></i><i style="position:absolute;left:241.6px;top:587.8px;width:1px;height:3.8px;background:#1b2132;opacity:0.35"></i><i style="position:absolute;left:244.6px;top:586.8px;width:1px;height:4.5px;background:#1b2132;opacity:0.2"></i><i style="position:absolute;left:247.6px;top:588.0px;width:4px;height:2.0px;background:#1b2132;opacity:0.5"></i><i style="position:absolute;left:251.6px;top:586.5px;width:2px;height:5px;background:#1b2132;opacity:0.5"></i><i style="position:absolute;left:262.6px;top:587.0px;width:1px;height:4.5px;background:#1b2132;opacity:1"></i></div>
<div style="position:absolute;left:187px;top:614px;width:602px;height:190px;background:#fff;border:1px solid #e8edf9;box-sizing:border-box;border-radius:2px;"></div>
<svg style="left:193.2px;top:636.4px" width="80" height="80" viewBox="-40 -40 80 80" fill="none" stroke-width="5.7"><path d="M0.000 -33.500 A33.5 33.5 0 1 1 -29.356 -16.139" stroke="#9dc100"/><path d="M-29.356 -16.139 A33.5 33.5 0 0 1 -0.000 -33.500" stroke="#f7a100"/></svg>
<svg style="left:287.0px;top:642.5px" width="5.8" height="5.8" viewBox="-2.9 -2.9 5.8 5.8"><circle r="1.9" fill="#9dc100"/></svg>
<svg style="left:287.0px;top:657.0px" width="5.8" height="5.8" viewBox="-2.9 -2.9 5.8 5.8"><circle r="1.9" fill="#f7a100"/></svg>
<div style="position:absolute;left:188px;top:725px;width:600px;height:1px;background:#dbe4f7;"></div>
<svg style="left:199.8px;top:736.8px" width="6.4" height="6.4" viewBox="0 0 6.4 6.4" fill="#9dc100"><path d="M3.2 0.2 L4.1 2.2 L6.3 2.45 L4.65 3.9 L5.1 6.1 L3.2 5 L1.3 6.1 L1.75 3.9 L0.1 2.45 L2.3 2.2 Z"/></svg>
<div style="position:absolute;left:0;top:0;filter:blur(0.35px)"><i style="position:absolute;left:208px;top:754.0px;width:4px;height:2.4px;background:#10162a;opacity:0.7"></i><i style="position:absolute;left:212px;top:754.3px;width:2px;height:5.4px;background:#10162a;opacity:0.5"></i><i style="position:absolute;left:214px;top:754.6px;width:3px;height:5.4px;background:#10162a;opacity:0.85"></i><i style="position:absolute;left:217px;top:755.5px;width:2px;height:4.5px;background:#10162a;opacity:1"></i><i style="position:absolute;left:221px;top:754.0px;width:3px;height:3.3px;background:#10162a;opacity:0.35"></i><i style="position:absolute;left:226px;top:754.0px;width:4px;height:5.4px;background:#10162a;opacity:0.5"></i><i style="position:absolute;left:236px;top:754.0px;width:2px;height:6px;background:#10162a;opacity:1"></i><i style="position:absolute;left:240px;top:755.4px;width:4px;height:3.3px;background:#10162a;opacity:0.35"></i><i style="position:absolute;left:245px;top:754.0px;width:2px;height:6px;background:#10162a;opacity:0.7"></i><i style="position:absolute;left:248px;top:754.0px;width:2px;height:6px;background:#10162a;opacity:0.35"></i><i style="position:absolute;left:253px;top:754.0px;width:2px;height:6px;background:#10162a;opacity:0.5"></i><i style="position:absolute;left:261px;top:754.0px;width:1px;height:5.4px;background:#10162a;opacity:1"></i><i style="position:absolute;left:266px;top:754.0px;width:1px;height:2.4px;background:#10162a;opacity:0.85"></i><i style="position:absolute;left:267px;top:754.0px;width:2px;height:6px;background:#10162a;opacity:0.7"></i><i style="position:absolute;left:274px;top:755.4px;width:1px;height:3.3px;background:#10162a;opacity:0.35"></i><i style="position:absolute;left:276px;top:754.0px;width:2px;height:6px;background:#10162a;opacity:1"></i><i style="position:absolute;left:281px;top:756.7px;width:2px;height:3.3px;background:#10162a;opacity:0.35"></i><i style="position:absolute;left:286px;top:754.0px;width:2px;height:4.5px;background:#10162a;opacity:0.2"></i><i style="position:absolute;left:289px;top:756.7px;width:1px;height:3.3px;background:#10162a;opacity:0.35"></i><i style="position:absolute;left:290px;top:755.4px;width:4px;height:3.3px;background:#10162a;opacity:1"></i><i style="position:absolute;left:295px;top:754.0px;width:3px;height:5.4px;background:#10162a;opacity:0.2"></i><i style="position:absolute;left:298px;top:754.0px;width:2px;height:6px;background:#10162a;opacity:0.35"></i><i style="position:absolute;left:300px;top:754.0px;width:2.4px;height:6px;background:#10162a;opacity:0.35"></i></div>
<svg style="left:696.2px;top:736.8px" width="6.8" height="6.8" viewBox="-0.2 -0.2 6.8 6.8" fill="none" stroke="#9dc100" stroke-width="0.9" stroke-linejoin="round"><path d="M3.2 0.2 L4.1 2.2 L6.3 2.45 L4.65 3.9 L5.1 6.1 L3.2 5 L1.3 6.1 L1.75 3.9 L0.1 2.45 L2.3 2.2 Z"/></svg>
<div style="position:absolute;left:0;top:0;filter:blur(0.35px)"><i style="position:absolute;left:707px;top:757.2px;width:2px;height:2.4px;background:#10162a;opacity:1"></i><i style="position:absolute;left:711px;top:755.4px;width:1px;height:2.4px;background:#10162a;opacity:0.35"></i><i style="position:absolute;left:712px;top:753.6px;width:2px;height:6px;background:#10162a;opacity:1"></i><i style="position:absolute;left:714px;top:755.0px;width:4px;height:3.3px;background:#10162a;opacity:0.35"></i><i style="position:absolute;left:718px;top:753.6px;width:2px;height:4.5px;background:#10162a;opacity:0.7"></i><i style="position:absolute;left:721px;top:754.2px;width:2px;height:5.4px;background:#10162a;opacity:0.2"></i><i style="position:absolute;left:723px;top:754.2px;width:2px;height:5.4px;background:#10162a;opacity:0.5"></i><i style="position:absolute;left:748px;top:754.4px;width:4px;height:4.5px;background:#10162a;opacity:1"></i><i style="position:absolute;left:753px;top:754.4px;width:4px;height:4.5px;background:#10162a;opacity:1"></i><i style="position:absolute;left:759px;top:755.0px;width:4px;height:3.3px;background:#10162a;opacity:0.2"></i><i style="position:absolute;left:768px;top:753.6px;width:2px;height:6px;background:#10162a;opacity:1"></i><i style="position:absolute;left:772px;top:753.6px;width:2px;height:3.3px;background:#10162a;opacity:0.35"></i></div>
<div style="position:absolute;left:799px;top:614px;width:602px;height:190px;background:#fff;border:1px solid #e8edf9;box-sizing:border-box;border-radius:2px;"></div>
<svg style="left:805.4px;top:636.4px" width="80" height="80" viewBox="-40 -40 80 80" fill="none" stroke-width="5.7"><path d="M0.351 -33.498 A33.5 33.5 0 0 1 33.485 0.991" stroke="#6fb0fb"/><path d="M33.457 1.692 A33.5 33.5 0 0 1 17.808 28.375" stroke="#9bc000"/><path d="M17.210 28.741 A33.5 33.5 0 0 1 -8.658 32.362" stroke="#f97100"/><path d="M-9.334 32.173 A33.5 33.5 0 0 1 -26.670 20.272" stroke="#fab100"/><path d="M-27.088 19.709 A33.5 33.5 0 0 1 -33.358 3.086" stroke="#d8125c"/><path d="M-33.415 2.387 A33.5 33.5 0 0 1 -30.301 -14.286" stroke="#8b2ff0"/><path d="M-29.996 -14.917 A33.5 33.5 0 0 1 -23.743 -23.633" stroke="#c40000"/><path d="M-23.243 -24.125 A33.5 33.5 0 0 1 -14.977 -29.965" stroke="#2261e0"/><path d="M-14.347 -30.273 A33.5 33.5 0 0 1 -7.829 -32.572" stroke="#5f9a17"/><path d="M-7.145 -32.729 A33.5 33.5 0 0 1 -0.351 -33.498" stroke="#5e6a84"/></svg>
<svg style="left:899.5px;top:642.5px" width="5.2" height="5.2" viewBox="-2.6 -2.6 5.2 5.2"><circle r="1.6" fill="#6fb0fb"/></svg>
<svg style="left:899.5px;top:656.66px" width="5.2" height="5.2" viewBox="-2.6 -2.6 5.2 5.2"><circle r="1.6" fill="#9bc000"/></svg>
<svg style="left:899.5px;top:670.82px" width="5.2" height="5.2" viewBox="-2.6 -2.6 5.2 5.2"><circle r="1.6" fill="#f97100"/></svg>
<svg style="left:899.5px;top:684.98px" width="5.2" height="5.2" viewBox="-2.6 -2.6 5.2 5.2"><circle r="1.6" fill="#fab100"/></svg>
<svg style="left:899.5px;top:699.14px" width="5.2" height="5.2" viewBox="-2.6 -2.6 5.2 5.2"><circle r="1.6" fill="#d8125c"/></svg>
<svg style="left:899.5px;top:713.3px" width="5.2" height="5.2" viewBox="-2.6 -2.6 5.2 5.2"><circle r="1.6" fill="#8b2ff0"/></svg>
<svg style="left:899.5px;top:727.46px" width="5.2" height="5.2" viewBox="-2.6 -2.6 5.2 5.2"><circle r="1.6" fill="#c40000"/></svg>
<svg style="left:899.5px;top:741.62px" width="5.2" height="5.2" viewBox="-2.6 -2.6 5.2 5.2"><circle r="1.6" fill="#2261e0"/></svg>
<svg style="left:899.5px;top:755.78px" width="5.2" height="5.2" viewBox="-2.6 -2.6 5.2 5.2"><circle r="1.6" fill="#5f9a17"/></svg>
<svg style="left:899.5px;top:769.94px" width="5.2" height="5.2" viewBox="-2.6 -2.6 5.2 5.2"><circle r="1.6" fill="#5e6a84"/></svg>
<div style="position:absolute;left:157px;top:792px;width:1273px;height:13px;background:#f4f7fc;"></div>
<div style="position:absolute;left:172px;top:791px;width:1244.5px;height:1px;background:#dbe4f7;border-radius:0 0 3px 3px;"></div>
<span class="t" style="font-size:14.3px;color:#fff;top:11.65px;font-weight:700;left:10px;transform:scaleX(1.4682);transform-origin:left center;-webkit-text-stroke:0.45px #fff;">КИБЕР</span>
<span class="t" style="font-size:14.3px;color:#f2f5fb;top:11.65px;left:86.4px;transform:scaleX(1.142);transform-origin:left center;">Протего</span>
<span class="t" style="font-size:9.6px;color:#fff;top:59.1px;font-weight:700;left:34.5px;transform:scaleX(0.897);transform-origin:left center;">СВОДКА</span>
<span class="t" style="font-size:9.6px;color:#fff;top:98.5px;font-weight:700;left:34.5px;transform:scaleX(0.8704);transform-origin:left center;">СОБЫТИЯ</span>
<span class="t" style="font-size:9.6px;color:#fff;top:137.8px;font-weight:700;left:34.5px;transform:scaleX(0.8626);transform-origin:left center;">ОТЧЁТЫ</span>
<span class="t" style="font-size:9.6px;color:#fff;top:176.9px;font-weight:700;left:34.5px;transform:scaleX(0.8836);transform-origin:left center;">ГРАФ СВЯЗЕЙ</span>
<span class="t" style="font-size:9.6px;color:#fff;top:216.7px;font-weight:700;left:34.5px;transform:scaleX(0.9053);transform-origin:left center;">УПРАВЛЕНИЕ</span>
<span class="t" style="font-size:9.6px;color:#fff;top:255.8px;font-weight:700;left:34.5px;transform:scaleX(0.9234);transform-origin:left center;">НАСТРОЙКИ</span>
<span class="t" style="font-size:9.6px;color:#fff;top:295.5px;font-weight:700;left:34.5px;transform:scaleX(0.9352);transform-origin:left center;">СПРАВОЧНИКИ</span>
<span class="t" style="font-size:7.5px;color:#e3e8f3;top:785.65px;letter-spacing:0.099px;left:78.6px;transform:translateX(-50%);margin-left:0.05px;">Powered by Cyberprotect</span>
<span class="t" style="font-size:13px;color:#3a4152;top:13.8px;letter-spacing:0.645px;left:197px;">Отчёты</span>
<span class="t" style="font-size:8.9px;color:#2b3242;top:54.35px;font-weight:700;left:182px;transform:scaleX(0.9899);transform-origin:left center;">Активность сотрудников за 3 недели</span>
<span class="t" style="font-size:8.5px;color:#fff;top:54.45px;font-weight:700;letter-spacing:0.17px;left:1283.8px;">Построить отчёт</span>
<span class="t" style="font-size:7.6px;color:#5c6370;top:102.8px;letter-spacing:0.058px;left:182.6px;">История</span>
<span class="t" style="font-size:7.6px;color:#5c6370;top:102.8px;letter-spacing:0.101px;left:234.20000000000002px;">Активность сотрудников ...</span>
<span class="t" style="font-size:7.6px;color:#5c6370;top:102.8px;letter-spacing:0.101px;left:364.63000000000005px;">Активность сотрудников ...</span>
<span class="t" style="font-size:7.6px;color:#5c6370;top:102.8px;letter-spacing:0.101px;left:495.06px;">Активность сотрудников ...</span>
<span class="t" style="font-size:7.6px;color:#5c6370;top:102.8px;letter-spacing:0.101px;left:625.49px;">Активность сотрудников ...</span>
<span class="t" style="font-size:7.6px;color:#5c6370;top:102.8px;letter-spacing:0.101px;left:755.92px;">Активность сотрудников ...</span>
<span class="t" style="font-size:7.6px;color:#5c6370;top:102.8px;letter-spacing:0.101px;left:886.35px;">Активность сотрудников ...</span>
<span class="t" style="font-size:7.6px;color:#20263a;top:102.8px;font-weight:700;letter-spacing:-0.057px;left:1016.4px;">Активность сотруднико...</span>
<span class="t" style="font-size:7.9px;color:#7d8390;top:125.55px;left:187.6px;transform:scaleX(0.9861);transform-origin:left center;">Пользователи</span>
<span class="t" style="font-size:9.8px;color:#3a4152;top:136.8px;left:187.6px;transform:scaleX(0.8655);transform-origin:left center;">Выбрано:</span>
<span class="t" style="font-size:9.5px;color:#2b3242;top:175.45px;font-weight:700;left:187.6px;transform:scaleX(0.9201);transform-origin:left center;">Средняя дневная активность</span>
<span class="t" style="font-size:7.2px;color:#fff;top:214.4px;font-weight:700;left:773.3px;transform:translateX(-50%);">10 ч 18 мин</span>
<span class="t" style="font-size:7.2px;color:#fff;top:214.4px;font-weight:700;left:1268.0px;transform:translateX(-50%);">1 ч 29 мин</span>
<span class="t" style="font-size:7.5px;color:#3a3f4c;top:214.25px;left:1350.4px;">11 ч 48 мин</span>
<span class="t" style="font-size:7.2px;color:#fff;top:236.4px;font-weight:700;left:525.5px;transform:translateX(-50%);">4 ч 24 мин</span>
<span class="t" style="font-size:7.2px;color:#fff;top:236.4px;font-weight:700;left:819.5px;transform:translateX(-50%);">2 ч 36 мин</span>
<span class="t" style="font-size:7.5px;color:#3a3f4c;top:236.25px;left:1350.4px;">7 ч 1 мин</span>
<span class="t" style="font-size:7.2px;color:#fff;top:258.4px;font-weight:700;left:790.9px;transform:translateX(-50%);">10 ч 12 мин</span>
<span class="t" style="font-size:7.2px;color:#fff;top:258.4px;font-weight:700;left:1285.6px;transform:translateX(-50%);">1 ч 1 мин</span>
<span class="t" style="font-size:7.5px;color:#3a3f4c;top:258.25px;left:1350.4px;">11 ч 14 мин</span>
<span class="t" style="font-size:7.2px;color:#fff;top:280.4px;font-weight:700;left:610.0px;transform:translateX(-50%);">6 ч 6 мин</span>
<span class="t" style="font-size:7.2px;color:#fff;top:280.4px;font-weight:700;left:932.5px;transform:translateX(-50%);">1 ч 12 мин</span>
<span class="t" style="font-size:7.5px;color:#3a3f4c;top:280.25px;left:1350.4px;">7 ч 19 мин</span>
<span class="t" style="font-size:7.2px;color:#fff;top:302.4px;font-weight:700;left:706.5px;transform:translateX(-50%);">2 ч 32 мин</span>
<span class="t" style="font-size:7.5px;color:#3a3f4c;top:302.25px;left:1350.4px;">2 ч 33 мин</span>
<span class="t" style="font-size:7.2px;color:#fff;top:324.7px;font-weight:700;left:802.3px;transform:translateX(-50%);">3 ч 13 мин</span>
<span class="t" style="font-size:7.2px;color:#fff;top:324.7px;font-weight:700;left:1297.0px;transform:translateX(-50%);">13 мин</span>
<span class="t" style="font-size:7.5px;color:#3a3f4c;top:324.55px;left:1350.4px;">3 ч 26 мин</span>
<span class="t" style="font-size:9.4px;color:#3a4152;top:217.1px;left:198px;transform:scaleX(0.9249);transform-origin:left center;">10.03.2025</span>
<span class="t" style="font-size:9.4px;color:#3a4152;top:230.4px;left:198px;transform:scaleX(0.9249);transform-origin:left center;">17.03.2025</span>
<span class="t" style="font-size:9.4px;color:#3a4152;top:261.3px;left:198px;transform:scaleX(0.9249);transform-origin:left center;">17.03.2025</span>
<span class="t" style="font-size:9.4px;color:#3a4152;top:274.6px;left:198px;transform:scaleX(0.9249);transform-origin:left center;">24.03.2025</span>
<span class="t" style="font-size:9.4px;color:#3a4152;top:305.7px;left:198px;transform:scaleX(0.9249);transform-origin:left center;">24.03.2025</span>
<span class="t" style="font-size:9.4px;color:#3a4152;top:319.0px;left:198px;transform:scaleX(0.9249);transform-origin:left center;">31.03.2025</span>
<span class="t" style="font-size:9px;color:#555b68;top:341.8px;left:206.2px;transform:scaleX(1.0101);transform-origin:left center;">Активен</span>
<span class="t" style="font-size:9px;color:#555b68;top:341.8px;left:259.8px;transform:scaleX(1.0054);transform-origin:left center;">Неактивен</span>
<span class="t" style="font-size:8.8px;color:#2f62cf;top:342.6px;letter-spacing:0.166px;left:1290.6px;">Процессы за период</span>
<span class="t" style="font-size:9.0px;color:#2b3242;top:386.9px;font-weight:700;left:197.79999999999998px;transform:scaleX(0.9778);transform-origin:left center;">Начало рабочего дня</span>
<span class="t" style="font-size:7.9px;color:#7d8390;top:408.65px;left:197.79999999999998px;transform:scaleX(0.9575);transform-origin:left center;">Самое раннее</span>
<span class="t" style="font-size:9.8px;color:#2b3242;top:420.0px;left:197.79999999999998px;transform:scaleX(0.8805);transform-origin:left center;-webkit-text-stroke:0.18px #2b3242;">08:22</span>
<span class="t" style="font-size:9.5px;color:#a9adb7;top:446.05px;left:197.79999999999998px;transform:scaleX(0.9128);transform-origin:left center;">10.03.2025</span>
<span class="t" style="font-size:7.9px;color:#7d8390;top:408.65px;left:313.79999999999995px;transform:scaleX(0.9361);transform-origin:left center;">Среднее</span>
<span class="t" style="font-size:9.8px;color:#2b3242;top:420.0px;left:313.79999999999995px;transform:scaleX(0.8805);transform-origin:left center;-webkit-text-stroke:0.18px #2b3242;">10:03</span>
<span class="t" style="font-size:7.9px;color:#7d8390;top:408.65px;left:412.4px;transform:scaleX(0.9942);transform-origin:left center;">Самое позднее</span>
<span class="t" style="font-size:9.8px;color:#2b3242;top:420.0px;left:412.4px;transform:scaleX(0.8968);transform-origin:left center;-webkit-text-stroke:0.18px #2b3242;">21:23</span>
<span class="t" style="font-size:9.5px;color:#a9adb7;top:446.05px;left:412.4px;transform:scaleX(0.9128);transform-origin:left center;">16.03.2025</span>
<span class="t" style="font-size:9.0px;color:#2b3242;top:386.9px;font-weight:700;left:809.8000000000001px;transform:scaleX(0.9944);transform-origin:left center;">Окончание рабочего дня</span>
<span class="t" style="font-size:7.9px;color:#7d8390;top:408.65px;left:809.8000000000001px;transform:scaleX(0.9538);transform-origin:left center;">Самое раннее</span>
<span class="t" style="font-size:9.8px;color:#2b3242;top:420.0px;left:809.8000000000001px;transform:scaleX(0.8887);transform-origin:left center;-webkit-text-stroke:0.18px #2b3242;">12:09</span>
<span class="t" style="font-size:9.5px;color:#a9adb7;top:446.05px;left:809.8000000000001px;transform:scaleX(0.9128);transform-origin:left center;">24.03.2025</span>
<span class="t" style="font-size:7.9px;color:#7d8390;top:408.65px;left:948.0px;transform:scaleX(0.9361);transform-origin:left center;">Среднее</span>
<span class="t" style="font-size:9.8px;color:#2b3242;top:420.0px;left:948.0px;transform:scaleX(0.8561);transform-origin:left center;-webkit-text-stroke:0.18px #2b3242;">18:41</span>
<span class="t" style="font-size:7.9px;color:#7d8390;top:408.65px;left:1047.2px;transform:scaleX(0.9942);transform-origin:left center;">Самое позднее</span>
<span class="t" style="font-size:9.8px;color:#2b3242;top:420.0px;left:1047.2px;transform:scaleX(0.8968);transform-origin:left center;-webkit-text-stroke:0.18px #2b3242;">23:58</span>
<span class="t" style="font-size:9.5px;color:#a9adb7;top:446.05px;left:1047.2px;transform:scaleX(0.9128);transform-origin:left center;">12.03.2025</span>
<span class="t" style="font-size:9.0px;color:#2b3242;top:490.7px;font-weight:700;left:198px;transform:scaleX(0.9598);transform-origin:left center;">Активность в выходные дни</span>
<span class="t" style="font-size:8.4px;color:#5c6370;top:515.6px;left:198px;transform:scaleX(0.8874);transform-origin:left center;">10.03.2025 - 17.03.2025</span>
<span class="t" style="font-size:8.8px;color:#4a5060;top:535.2px;letter-spacing:0.308px;left:999.6px;">24 мин</span>
<span class="t" style="font-size:8.4px;color:#5c6370;top:565.0px;left:198px;transform:scaleX(0.8874);transform-origin:left center;">17.03.2025 - 24.03.2025</span>
<span class="t" style="font-size:8.8px;color:#4a5060;top:584.6px;letter-spacing:0.308px;left:999.6px;">23 мин</span>
<span class="t" style="font-size:9.0px;color:#2b3242;top:622.8px;font-weight:700;left:194.4px;transform:scaleX(0.966);transform-origin:left center;">Средняя продолжительность рабочего дня</span>
<span class="t" style="font-size:10.6px;color:#4a4f5a;top:666.1px;right:1198.2px;">8</span>
<span class="t" style="font-size:8.2px;color:#7d8390;top:667.9px;letter-spacing:0.319px;left:237px;">ч</span>
<span class="t" style="font-size:10.6px;color:#4a4f5a;top:678.3px;right:1201.4px;">37</span>
<span class="t" style="font-size:8.2px;color:#7d8390;top:680.1px;letter-spacing:0.933px;left:234px;">мин</span>
<span class="t" style="font-size:9px;color:#434958;top:640.9px;left:298px;transform:scaleX(1.016);transform-origin:left center;">Активен</span>
<span class="t" style="font-size:9px;color:#434958;top:655.5px;left:298px;transform:scaleX(1.0144);transform-origin:left center;">Неактивен</span>
<span class="t" style="font-size:8.8px;color:#4a5060;top:640.7px;letter-spacing:0.059px;right:702.84px;">7 ч 8 мин</span>
<span class="t" style="font-size:8.8px;color:#4a5060;top:655.2px;letter-spacing:0.064px;right:702.84px;">1 ч 29 мин</span>
<span class="t" style="font-size:8.8px;color:#4a5060;top:640.7px;letter-spacing:-0.305px;left:743.6px;">83%</span>
<span class="t" style="font-size:8.8px;color:#4a5060;top:655.2px;letter-spacing:-0.305px;left:743.6px;">17%</span>
<span class="t" style="font-size:7.9px;color:#5c6370;top:736.55px;left:210px;transform:scaleX(0.9927);transform-origin:left center;">Самый активный</span>
<span class="t" style="font-size:8.8px;color:#a9adb7;top:766.0px;letter-spacing:0.175px;left:210px;">9 ч 33 мин</span>
<span class="t" style="font-size:7.9px;color:#7d8390;top:736.55px;left:707.7px;transform:scaleX(0.9803);transform-origin:left center;">Самый неактивный</span>
<span class="t" style="font-size:8.8px;color:#a9adb7;top:765.4px;letter-spacing:0.096px;left:707.7px;">5 ч 6 мин</span>
<span class="t" style="font-size:9.0px;color:#2b3242;top:622.8px;font-weight:700;left:806.2px;transform:scaleX(0.9596);transform-origin:left center;">Топ 10 процессов</span>
<span class="t" style="font-size:10.6px;color:#4a4f5a;top:666.1px;letter-spacing:-0.144px;left:831.2px;">143</span>
<span class="t" style="font-size:8.2px;color:#7d8390;top:667.9px;letter-spacing:0.319px;left:855px;">ч</span>
<span class="t" style="font-size:10.6px;color:#4a4f5a;top:678.3px;left:830.8px;">5</span>
<span class="t" style="font-size:8.2px;color:#7d8390;top:680.1px;letter-spacing:0.883px;left:842.8px;">мин</span>
<span class="t" style="font-size:8.8px;color:#4a5060;top:640.5px;letter-spacing:0.008px;left:909.8px;">Google Chrome</span>
<span class="t" style="font-size:9.1px;color:#474c58;top:640.75px;right:57.9px;">36 ч 41 мин</span>
<span class="t" style="font-size:8.8px;color:#4a5060;top:654.66px;letter-spacing:0.113px;left:909.8px;">Telegram Desktop</span>
<span class="t" style="font-size:9.1px;color:#474c58;top:654.91px;right:57.9px;">22 ч 20 мин</span>
<span class="t" style="font-size:8.8px;color:#4a5060;top:668.82px;letter-spacing:0.051px;left:909.8px;">TrueConf Client</span>
<span class="t" style="font-size:9.1px;color:#474c58;top:669.07px;right:57.9px;">18 ч 43 мин</span>
<span class="t" style="font-size:8.8px;color:#4a5060;top:682.98px;letter-spacing:0.102px;left:909.8px;">Firefox</span>
<span class="t" style="font-size:9.1px;color:#474c58;top:683.23px;right:57.9px;">15 ч 1 мин</span>
<span class="t" style="font-size:8.8px;color:#4a5060;top:697.14px;letter-spacing:0.157px;left:909.8px;">Microsoft PowerPoint</span>
<span class="t" style="font-size:9.1px;color:#474c58;top:697.39px;right:57.9px;">12 ч 42 мин</span>
<span class="t" style="font-size:8.8px;color:#4a5060;top:711.3px;letter-spacing:0.222px;left:909.8px;">Microsoft Outlook</span>
<span class="t" style="font-size:9.1px;color:#474c58;top:711.55px;right:57.9px;">12 ч 8 мин</span>
<span class="t" style="font-size:8.8px;color:#4a5060;top:725.46px;letter-spacing:-0.058px;left:909.8px;">LockApp.exe</span>
<span class="t" style="font-size:9.1px;color:#474c58;top:725.71px;right:57.9px;">7 ч 48 мин</span>
<span class="t" style="font-size:8.8px;color:#4a5060;top:739.62px;letter-spacing:0.147px;left:909.8px;">VMware Workstation</span>
<span class="t" style="font-size:9.1px;color:#474c58;top:739.87px;right:57.9px;">7 ч 23 мин</span>
<span class="t" style="font-size:8.8px;color:#4a5060;top:753.78px;letter-spacing:0.1px;left:909.8px;">Zulip Desktop App</span>
<span class="t" style="font-size:9.1px;color:#474c58;top:754.03px;right:57.9px;">5 ч 11 мин</span>
<span class="t" style="font-size:8.8px;color:#4a5060;top:767.94px;letter-spacing:0.209px;left:909.8px;">Microsoft Word</span>
<span class="t" style="font-size:9.1px;color:#474c58;top:768.19px;right:57.9px;">5 ч 8 мин</span>
</body></html>
